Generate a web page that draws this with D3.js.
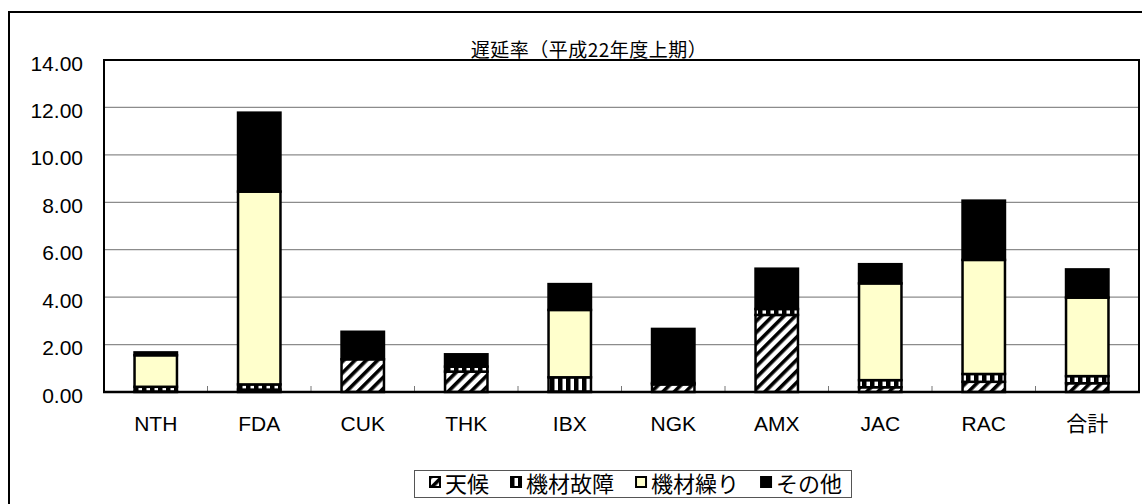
<!DOCTYPE html>
<html><head><meta charset="utf-8">
<script src="https://cdn.jsdelivr.net/npm/d3@7/dist/d3.min.js"></script>
<style>body{margin:0;background:#fff}svg{display:block}</style>
</head><body>
<svg id="c" width="1142" height="504"></svg>
<script>
// ---- data ----
const categories = ["NTH","FDA","CUK","THK","IBX","NGK","AMX","JAC","RAC","合計"];
const weather      = [0.02, 0.10, 1.38, 0.86, 0.02, 0.32, 3.25, 0.20, 0.43, 0.37]; // 天候
const equipFailure = [0.20, 0.22, 0.00, 0.21, 0.60, 0.06, 0.25, 0.30, 0.33, 0.30]; // 機材故障
const equipRotation= [1.33, 8.13, 0.00, 0.00, 2.84, 0.00, 0.00, 4.08, 4.81, 3.31]; // 機材繰り
const other        = [0.12, 3.33, 1.16, 0.52, 1.09, 2.28, 1.70, 0.81, 2.50, 1.19]; // その他
const seriesNames = ["天候","機材故障","機材繰り","その他"];
const yTicks = [0,2,4,6,8,10,12,14];
const titleText = "遅延率（平成22年度上期）";

// ---- setup ----
const svg = d3.select("#c");
const L = 104, R = 1139, T = 60, B = 392;
const latin = "'Liberation Sans', Arial, sans-serif";
const cjk = "'Noto Sans CJK JP', 'Noto Sans', sans-serif";

const rows = categories.map((c,i)=>({cat:c,"天候":weather[i],"機材故障":equipFailure[i],"機材繰り":equipRotation[i],"その他":other[i]}));
const stack = d3.stack().keys(seriesNames)(rows);

const x = d3.scaleBand().domain(categories).range([L,R]).paddingInner(0.59).paddingOuter(0.295);
const y = d3.scaleLinear().domain([0,14]).range([B,T]);

// patterns
const defs = svg.append("defs");
const ph = defs.append("pattern").attr("id","hatch").attr("patternUnits","userSpaceOnUse")
  .attr("width",8).attr("height",8).attr("patternTransform","rotate(45)");
ph.append("rect").attr("width",8).attr("height",8).attr("fill","#fff");
ph.append("rect").attr("x",0).attr("width",3.6).attr("height",8).attr("fill","#000");
const pv = defs.append("pattern").attr("id","vstripe").attr("patternUnits","userSpaceOnUse")
  .attr("width",8).attr("height",8);
pv.append("rect").attr("width",8).attr("height",8).attr("fill","#000");
pv.append("rect").attr("x",2.5).attr("width",3.5).attr("height",8).attr("fill","#fff");

const fills = {"天候":"url(#hatch)","機材故障":"url(#vstripe)","機材繰り":"#FFFFCC","その他":"#000"};

// outer frame
svg.append("rect").attr("x",9).attr("y",12).attr("width",1200).attr("height",600)
  .attr("fill","none").attr("stroke","#000").attr("stroke-width",2);

// gridlines
svg.append("g").selectAll("line").data(yTicks.filter(v=>v>0 && v<14)).join("line")
  .attr("x1",L).attr("x2",R).attr("y1",d=>y(d)).attr("y2",d=>y(d))
  .attr("stroke","#8c8c8c").attr("stroke-width",1.3);

// category boundary ticks
svg.append("g").selectAll("line").data(d3.range(1,categories.length)).join("line")
  .attr("x1",i=>x.range()[0]+i*x.step()).attr("x2",i=>x.range()[0]+i*x.step())
  .attr("y1",B).attr("y2",B-6).attr("stroke","#777").attr("stroke-width",1);

// bars
svg.append("g").selectAll("g").data(stack).join("g")
  .attr("fill",d=>fills[d.key])
  .selectAll("rect").data(d=>d.filter(s=>s[1]-s[0]>0)).join("rect")
  .attr("x",d=>x(d.data.cat)).attr("width",x.bandwidth())
  .attr("y",d=>y(d[1])).attr("height",d=>y(d[0])-y(d[1]))
  .attr("stroke","#000").attr("stroke-width",2.5);

// plot border
svg.append("path").attr("d",`M${L},${B}V${T}H${R}V${B}`).attr("fill","none")
  .attr("stroke","#000").attr("stroke-width",2);
svg.append("line").attr("x1",L-1).attr("x2",R+1).attr("y1",B).attr("y2",B)
  .attr("stroke","#000").attr("stroke-width",2.5);

// y axis labels
const ya = svg.append("g").attr("transform",`translate(${L},0)`)
  .call(d3.axisLeft(y).tickValues(yTicks).tickFormat(d3.format(".2f")).tickSize(0).tickPadding(21));
ya.select(".domain").remove();
ya.selectAll("text").attr("font-family",latin).attr("font-size",21).attr("fill","#000")
  .attr("dy","0.48em");

// x axis labels
const xa = svg.append("g").attr("transform",`translate(0,${B})`)
  .call(d3.axisBottom(x).tickSize(0).tickPadding(24));
xa.select(".domain").remove();
xa.selectAll("text").attr("font-family",(d)=>/[A-Z]/.test(d)?latin:cjk).attr("font-size",21).attr("fill","#000");

// title
svg.append("text").attr("x",589).attr("y",57).attr("text-anchor","middle")
  .attr("font-family",cjk).attr("font-size",19).attr("letter-spacing",0.5).text(titleText);

// legend
const lg = svg.append("g");
lg.append("rect").attr("x",414.5).attr("y",470.5).attr("width",437).attr("height",27)
  .attr("fill","#fff").attr("stroke","#555").attr("stroke-width",1);
let lx = 430;
seriesNames.forEach((n)=>{
  lg.append("rect").attr("x",lx).attr("y",477).attr("width",10).attr("height",10)
    .attr("fill",fills[n]).attr("stroke","#000").attr("stroke-width",2);
  const t = lg.append("text").attr("x",lx+15).attr("y",492).attr("font-family",cjk)
    .attr("font-size",22).attr("fill","#000").text(n);
  lx = lx + 15 + t.node().getComputedTextLength() + 22;
});
</script>
</body></html>
